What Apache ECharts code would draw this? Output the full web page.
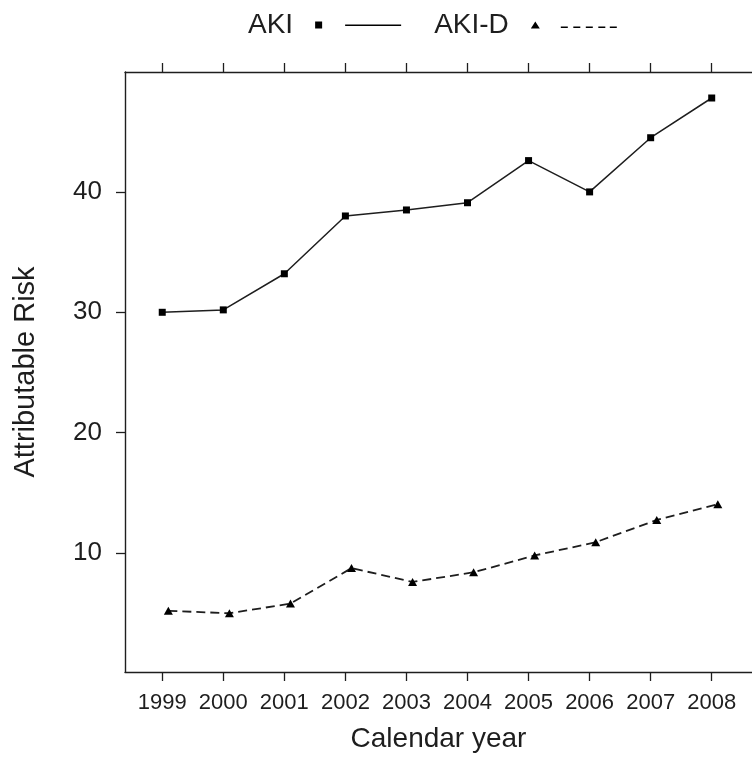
<!DOCTYPE html>
<html>
<head>
<meta charset="utf-8">
<script src="https://cdn.jsdelivr.net/npm/echarts@6/dist/echarts.min.js"></script>
<style>
html,body{margin:0;padding:0;background:#fff;}
#c{width:752px;height:758px;}
</style>
</head>
<body>
<div id="c"></div>
<script>
const years = [1999, 2000, 2001, 2002, 2003, 2004, 2005, 2006, 2007, 2008];
const akiX = [1999, 2000, 2001, 2002, 2003, 2004, 2005, 2006, 2007, 2008];
const akiValues = [30.0, 30.2, 33.2, 38.0, 38.5, 39.1, 42.6, 40.0, 44.5, 47.8];
const akiDX = [1999.1, 2000.1, 2001.1, 2002.1, 2003.1, 2004.1, 2005.1, 2006.1, 2007.1, 2008.1];
const akiDValues = [5.2, 5.0, 5.8, 8.75, 7.6, 8.4, 9.8, 10.9, 12.75, 14.05];
const yTicks = [10, 20, 30, 40];

const FONT = '"Liberation Sans", Arial, Helvetica, sans-serif';
const INK = '#1e1e1e';

const chart = echarts.init(document.getElementById('c'), null, {renderer: 'canvas'});

const iconAKI = 'path://M0 0 L7 0 L7 7 L0 7 Z M30 3 L86 3 L86 4.4 L30 4.4 Z';
const iconAKID = 'path://M0 7 L4.5 0 L9 7 Z M30 5 L37 5 L37 6.4 L30 6.4 Z M42.5 5 L49.5 5 L49.5 6.4 L42.5 6.4 Z M55 5 L62 5 L62 6.4 L55 6.4 Z M67.5 5 L74.5 5 L74.5 6.4 L67.5 6.4 Z M79 5 L86 5 L86 6.4 L79 6.4 Z';

const xMin = 1998.39, xMax = 2008.66;

chart.setOption({
  animation: false,
  backgroundColor: '#fff',
  textStyle: {fontFamily: FONT},
  legend: {
    left: 243,
    top: 6,
    align: 'right',
    itemGap: 33,
    itemWidth: 86,
    itemHeight: 7,
    symbolKeepAspect: false,
    itemStyle: {borderWidth: 0},
    textStyle: {fontSize: 28, color: INK, fontFamily: FONT, padding: [0, 17, 0, 0]},
    data: [
      {name: 'AKI', icon: iconAKI},
      {name: 'AKI-D', icon: iconAKID}
    ]
  },
  grid: {left: 125, right: 0, top: 72, height: 600.3, containLabel: false},
  xAxis: [
    {
      type: 'value',
      position: 'bottom',
      min: xMin,
      max: xMax,
      splitLine: {show: false},
      axisLine: {lineStyle: {color: INK, width: 1.4}},
      axisTick: {show: true, length: 9, customValues: years, lineStyle: {color: INK, width: 1.3}},
      axisLabel: {customValues: years, formatter: v => String(Math.round(v)), fontSize: 22, color: INK, margin: 20},
      name: 'Calendar year',
      nameLocation: 'middle',
      nameGap: 53,
      nameTextStyle: {fontSize: 28, color: INK}
    },
    {
      type: 'value',
      position: 'top',
      min: xMin,
      max: xMax,
      splitLine: {show: false},
      axisLine: {show: true, lineStyle: {color: INK, width: 1.4}},
      axisTick: {show: true, length: 9, customValues: years, lineStyle: {color: INK, width: 1.3}},
      axisLabel: {show: false}
    }
  ],
  yAxis: {
    type: 'value',
    min: 0.12,
    max: 49.96,
    splitLine: {show: false},
    axisLine: {show: true, lineStyle: {color: INK, width: 1.4}},
    axisTick: {show: true, length: 9, customValues: yTicks, lineStyle: {color: INK, width: 1.3}},
    axisLabel: {customValues: yTicks, fontSize: 26, color: INK, margin: 23},
    name: 'Attributable Risk',
    nameLocation: 'middle',
    nameGap: 85,
    nameTextStyle: {fontSize: 29, color: INK}
  },
  series: [
    {
      name: 'AKI',
      type: 'line',
      data: akiX.map((x, i) => [x, akiValues[i]]),
      symbol: 'rect',
      symbolSize: 7,
      itemStyle: {color: '#000'},
      lineStyle: {color: INK, width: 1.5, type: 'solid'}
    },
    {
      name: 'AKI-D',
      type: 'line',
      data: akiDX.map((x, i) => [x, akiDValues[i]]),
      symbol: 'triangle',
      symbolSize: [9, 8],
      itemStyle: {color: '#000'},
      lineStyle: {color: INK, width: 1.8, type: [9, 5]}
    }
  ]
});
</script>
</body>
</html>
